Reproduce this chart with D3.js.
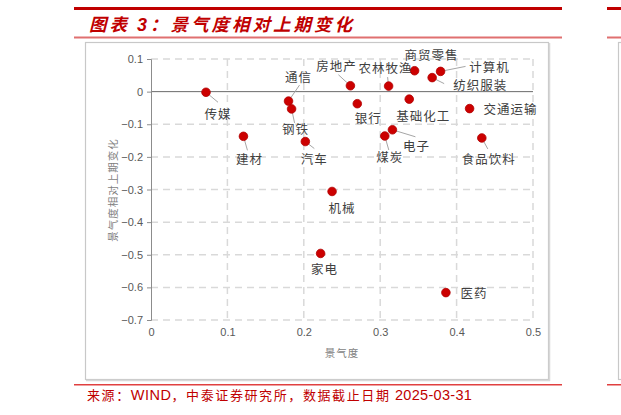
<!DOCTYPE html>
<html>
<head>
<meta charset="utf-8">
<script src="https://cdn.jsdelivr.net/npm/d3@7"></script>
<style>
  html, body { margin: 0; padding: 0; background: #fff; }
  svg { display: block; }
</style>
</head>
<body>
<svg id="chart" width="621" height="415"></svg>
<script>
// 行业景气度数据
const industries = ["传媒", "建材", "通信", "钢铁", "汽车", "房地产", "银行", "农林牧渔", "商贸零售", "计算机",
  "纺织服装", "基础化工", "交通运输", "电子", "煤炭", "食品饮料", "机械", "家电", "医药"];
const jingqi = [0.072, 0.121, 0.180, 0.184, 0.202, 0.261, 0.270, 0.311, 0.345, 0.379,
  0.368, 0.338, 0.417, 0.316, 0.306, 0.433, 0.237, 0.222, 0.386];
const change = [-0.002, -0.137, -0.029, -0.053, -0.153, 0.018, -0.037, 0.017, 0.064, 0.062,
  0.043, -0.023, -0.052, -0.117, -0.136, -0.142, -0.306, -0.496, -0.616];
const xTicks = [0, 0.1, 0.2, 0.3, 0.4, 0.5];
const yTicks = [0.1, 0, -0.1, -0.2, -0.3, -0.4, -0.5, -0.6, -0.7];

// 标签相对点的偏移(像素)，以及引线终点
const labelOffset = [[12, 21], [6, 22], [10, -25], [4, 20], [9, 17], [-14, -20], [11, 14], [-3, -19], [17, -16], [49, -5],
  [48, 7], [14, 16], [41, 0], [24, 16], [5, 21], [7, 21], [10, 16], [4, 15], [28, 0]];
const leaderEnd = [[12, 10], [4, 14], [11, -16], [3, 14], [9, 7], [-12, -11], null, [-1, -9], null, [25, -5],
  [12, 6], null, null, [23, 7], [4, 14], [6, 11], null, null, null];

const red = "#c00000";
const svg = d3.select("#chart");

// 页面框架
svg.append("rect").attr("x", 74).attr("y", 7).attr("width", 488).attr("height", 3).attr("fill", red);
svg.append("rect").attr("x", 74).attr("y", 36.5).attr("width", 488).attr("height", 2).attr("fill", "#e07070");
svg.append("rect").attr("x", 74).attr("y", 384).attr("width", 488).attr("height", 1.5).attr("fill", "#e04040");
svg.append("rect").attr("x", 85.5).attr("y", 42.5).attr("width", 463).attr("height", 337)
  .attr("fill", "#fff").attr("stroke", "#c8c8c8").attr("stroke-width", 1.2);
svg.append("line").attr("x1", 549.5).attr("x2", 549.5).attr("y1", 43).attr("y2", 381)
  .attr("stroke", "#d8d8d8").attr("stroke-width", 1.5);
svg.append("line").attr("x1", 86).attr("x2", 550).attr("y1", 380.5).attr("y2", 380.5)
  .attr("stroke", "#d8d8d8").attr("stroke-width", 1.5);

// 右侧相邻图表的边缘
svg.append("rect").attr("x", 607).attr("y", 7).attr("width", 20).attr("height", 3).attr("fill", red);
svg.append("rect").attr("x", 607).attr("y", 36.5).attr("width", 20).attr("height", 2).attr("fill", "#e07070");
svg.append("rect").attr("x", 607).attr("y", 384).attr("width", 20).attr("height", 1.5).attr("fill", "#e04040");
svg.append("rect").attr("x", 618.5).attr("y", 42.5).attr("width", 10).attr("height", 337)
  .attr("fill", "none").attr("stroke", "#c8c8c8").attr("stroke-width", 1.2);

const title = svg.append("text").attr("x", 89).attr("y", 30.5)
  .attr("font-family", "Noto Sans CJK SC").attr("font-size", 17.5).attr("font-weight", "bold")
  .attr("font-style", "italic").attr("fill", red).attr("letter-spacing", 3);
title.append("tspan").text("图表 ");
title.append("tspan").attr("font-family", "Liberation Sans").attr("font-size", 18).text("3");
title.append("tspan").text("：景气度相对上期变化");

const foot = svg.append("text").attr("x", 87).attr("y", 400)
  .attr("font-family", "Noto Sans CJK SC").attr("font-size", 13).attr("fill", red).attr("letter-spacing", 1.6);
foot.append("tspan").text("来源：");
foot.append("tspan").attr("font-family", "Liberation Sans").attr("font-size", 14.5).attr("letter-spacing", 0.5).text("WIND");
foot.append("tspan").text("，中泰证券研究所，数据截止日期 ");
foot.append("tspan").attr("font-family", "Liberation Sans").attr("font-size", 14.5).attr("letter-spacing", 0.3).text("2025-03-31");

// 坐标
const x = d3.scaleLinear().domain([0, 0.5]).range([151, 533]);
const y = d3.scaleLinear().domain([-0.7, 0.1]).range([320, 59]);

const grid = svg.append("g");
grid.selectAll(".vg").data(xTicks.slice(1)).enter().append("line")
  .attr("x1", d => x(d)).attr("x2", d => x(d)).attr("y1", y(0.1)).attr("y2", y(-0.7))
  .attr("stroke", "#d9d9d9").attr("stroke-width", 1.5).attr("stroke-dasharray", "7,5");
grid.selectAll(".hg").data(yTicks.filter(d => d !== 0)).enter().append("line")
  .attr("x1", x(0)).attr("x2", x(0.5)).attr("y1", d => y(d)).attr("y2", d => y(d))
  .attr("stroke", "#d9d9d9").attr("stroke-width", 1.5).attr("stroke-dasharray", "7,5");
grid.append("line").attr("x1", x(0)).attr("x2", x(0.5)).attr("y1", y(0)).attr("y2", y(0))
  .attr("stroke", "#6b6b6b").attr("stroke-width", 1);

const yAxis = svg.append("g").attr("transform", `translate(${x(0)},0)`)
  .call(d3.axisLeft(y).tickValues(yTicks).tickSize(4).tickPadding(4).tickFormat(d => d3.format("")(+d.toFixed(1))));
yAxis.select(".domain").attr("stroke", "#8c8c8c");
yAxis.selectAll(".tick line").attr("stroke", "#8c8c8c");
yAxis.selectAll("text").attr("font-family", "Liberation Sans").attr("font-size", 11).attr("fill", "#595959");

const xAxis = svg.append("g").attr("transform", `translate(0,${y(-0.7)})`)
  .call(d3.axisBottom(x).tickValues(xTicks).tickSize(0).tickPadding(8).tickFormat(d => d3.format("")(+d.toFixed(1))));
xAxis.select(".domain").remove();
xAxis.selectAll("text").attr("font-family", "Liberation Sans").attr("font-size", 11).attr("fill", "#595959");

svg.append("text").attr("x", 342).attr("y", 357).attr("text-anchor", "middle")
  .attr("font-family", "Noto Sans CJK SC").attr("font-size", 10.5).attr("letter-spacing", 1).attr("fill", "#7f7f7f")
  .text("景气度");
svg.append("text").attr("transform", "translate(117,190) rotate(-90)").attr("text-anchor", "middle")
  .attr("font-family", "Noto Sans CJK SC").attr("font-size", 10.5).attr("letter-spacing", 1).attr("fill", "#7f7f7f")
  .text("景气度相对上期变化");

// 散点
const pts = industries.map((name, i) => ({ name, x: jingqi[i], y: change[i], lo: labelOffset[i], le: leaderEnd[i] }));

svg.append("g").selectAll("line").data(pts.filter(d => d.le)).enter().append("line")
  .attr("x1", d => x(d.x)).attr("y1", d => y(d.y))
  .attr("x2", d => x(d.x) + d.le[0]).attr("y2", d => y(d.y) + d.le[1])
  .attr("stroke", "#a6a6a6").attr("stroke-width", 1);

svg.append("g").selectAll("circle").data(pts).enter().append("circle")
  .attr("cx", d => x(d.x)).attr("cy", d => y(d.y)).attr("r", 4.3)
  .attr("fill", "#cc0000").attr("stroke", "#b00000").attr("stroke-width", 0.8);

svg.append("g").selectAll("text").data(pts).enter().append("text")
  .attr("x", d => x(d.x) + d.lo[0]).attr("y", d => y(d.y) + d.lo[1])
  .attr("text-anchor", "middle").attr("dominant-baseline", "central")
  .attr("font-family", "Noto Sans CJK SC").attr("font-size", 12.5).attr("letter-spacing", 1)
  .attr("fill", "#404040")
  .text(d => d.name);
</script>
</body>
</html>
